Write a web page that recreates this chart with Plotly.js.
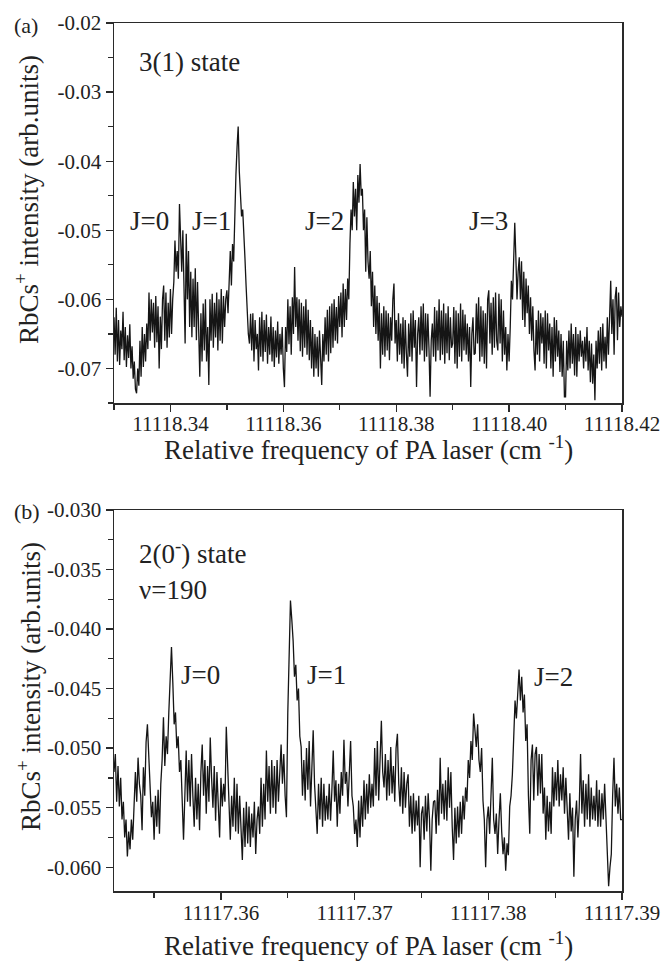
<!DOCTYPE html>
<html>
<head>
<meta charset="utf-8">
<script src="https://cdn.plot.ly/plotly-3.0.1.min.js"></script>
<style>html,body{margin:0;padding:0;background:#fff;}#chart{width:664px;height:963px;}</style>
</head>
<body>
<div id="chart"></div>
<script>
// ---------- Panel (a): 3(1) state ----------
const freqA = [
11118.3300,11118.3302,11118.3304,11118.3306,11118.3308,11118.3310,11118.3312,11118.3314,11118.3316,11118.3318,11118.3320,11118.3322,11118.3324,11118.3326,11118.3328,11118.3330,11118.3332,11118.3334,11118.3336,11118.3338,
11118.3340,11118.3342,11118.3344,11118.3346,11118.3348,11118.3350,11118.3352,11118.3354,11118.3356,11118.3358,11118.3360,11118.3362,11118.3364,11118.3366,11118.3368,11118.3370,11118.3372,11118.3374,11118.3376,11118.3378,
11118.3380,11118.3382,11118.3384,11118.3386,11118.3388,11118.3390,11118.3392,11118.3394,11118.3396,11118.3398,11118.3400,11118.3402,11118.3404,11118.3406,11118.3408,11118.3410,11118.3412,11118.3414,11118.3416,11118.3418,
11118.3420,11118.3422,11118.3424,11118.3426,11118.3428,11118.3430,11118.3432,11118.3434,11118.3436,11118.3438,11118.3440,11118.3442,11118.3444,11118.3446,11118.3448,11118.3450,11118.3452,11118.3454,11118.3456,11118.3458,
11118.3460,11118.3462,11118.3464,11118.3466,11118.3468,11118.3470,11118.3472,11118.3474,11118.3476,11118.3478,11118.3480,11118.3482,11118.3484,11118.3486,11118.3488,11118.3490,11118.3492,11118.3494,11118.3496,11118.3498,
11118.3500,11118.3502,11118.3504,11118.3506,11118.3508,11118.3510,11118.3512,11118.3514,11118.3516,11118.3518,11118.3520,11118.3522,11118.3524,11118.3526,11118.3528,11118.3530,11118.3532,11118.3534,11118.3536,11118.3538,
11118.3540,11118.3542,11118.3544,11118.3546,11118.3548,11118.3550,11118.3552,11118.3554,11118.3556,11118.3558,11118.3560,11118.3562,11118.3564,11118.3566,11118.3568,11118.3570,11118.3572,11118.3574,11118.3576,11118.3578,
11118.3580,11118.3582,11118.3584,11118.3586,11118.3588,11118.3590,11118.3592,11118.3594,11118.3596,11118.3598,11118.3600,11118.3602,11118.3604,11118.3606,11118.3608,11118.3610,11118.3612,11118.3614,11118.3616,11118.3618,
11118.3620,11118.3622,11118.3624,11118.3626,11118.3628,11118.3630,11118.3632,11118.3634,11118.3636,11118.3638,11118.3640,11118.3642,11118.3644,11118.3646,11118.3648,11118.3650,11118.3652,11118.3654,11118.3656,11118.3658,
11118.3660,11118.3662,11118.3664,11118.3666,11118.3668,11118.3670,11118.3672,11118.3674,11118.3676,11118.3678,11118.3680,11118.3682,11118.3684,11118.3686,11118.3688,11118.3690,11118.3692,11118.3694,11118.3696,11118.3698,
11118.3700,11118.3702,11118.3704,11118.3706,11118.3708,11118.3710,11118.3712,11118.3714,11118.3716,11118.3718,11118.3720,11118.3722,11118.3724,11118.3726,11118.3728,11118.3730,11118.3732,11118.3734,11118.3736,11118.3738,
11118.3740,11118.3742,11118.3744,11118.3746,11118.3748,11118.3750,11118.3752,11118.3754,11118.3756,11118.3758,11118.3760,11118.3762,11118.3764,11118.3766,11118.3768,11118.3770,11118.3772,11118.3774,11118.3776,11118.3778,
11118.3780,11118.3782,11118.3784,11118.3786,11118.3788,11118.3790,11118.3792,11118.3794,11118.3796,11118.3798,11118.3800,11118.3802,11118.3804,11118.3806,11118.3808,11118.3810,11118.3812,11118.3814,11118.3816,11118.3818,
11118.3820,11118.3822,11118.3824,11118.3826,11118.3828,11118.3830,11118.3832,11118.3834,11118.3836,11118.3838,11118.3840,11118.3842,11118.3844,11118.3846,11118.3848,11118.3850,11118.3852,11118.3854,11118.3856,11118.3858,
11118.3860,11118.3862,11118.3864,11118.3866,11118.3868,11118.3870,11118.3872,11118.3874,11118.3876,11118.3878,11118.3880,11118.3882,11118.3884,11118.3886,11118.3888,11118.3890,11118.3892,11118.3894,11118.3896,11118.3898,
11118.3900,11118.3902,11118.3904,11118.3906,11118.3908,11118.3910,11118.3912,11118.3914,11118.3916,11118.3918,11118.3920,11118.3922,11118.3924,11118.3926,11118.3928,11118.3930,11118.3932,11118.3934,11118.3936,11118.3938,
11118.3940,11118.3942,11118.3944,11118.3946,11118.3948,11118.3950,11118.3952,11118.3954,11118.3956,11118.3958,11118.3960,11118.3962,11118.3964,11118.3966,11118.3968,11118.3970,11118.3972,11118.3974,11118.3976,11118.3978,
11118.3980,11118.3982,11118.3984,11118.3986,11118.3988,11118.3990,11118.3992,11118.3994,11118.3996,11118.3998,11118.4000,11118.4002,11118.4004,11118.4006,11118.4008,11118.4010,11118.4012,11118.4014,11118.4016,11118.4018,
11118.4020,11118.4022,11118.4024,11118.4026,11118.4028,11118.4030,11118.4032,11118.4034,11118.4036,11118.4038,11118.4040,11118.4042,11118.4044,11118.4046,11118.4048,11118.4050,11118.4052,11118.4054,11118.4056,11118.4058,
11118.4060,11118.4062,11118.4064,11118.4066,11118.4068,11118.4070,11118.4072,11118.4074,11118.4076,11118.4078,11118.4080,11118.4082,11118.4084,11118.4086,11118.4088,11118.4090,11118.4092,11118.4094,11118.4096,11118.4098,
11118.4100,11118.4102,11118.4104,11118.4106,11118.4108,11118.4110,11118.4112,11118.4114,11118.4116,11118.4118,11118.4120,11118.4122,11118.4124,11118.4126,11118.4128,11118.4130,11118.4132,11118.4134,11118.4136,11118.4138,
11118.4140,11118.4142,11118.4144,11118.4146,11118.4148,11118.4150,11118.4152,11118.4154,11118.4156,11118.4158,11118.4160,11118.4162,11118.4164,11118.4166,11118.4168,11118.4170,11118.4172,11118.4174,11118.4176,11118.4178,
11118.4180,11118.4182,11118.4184,11118.4186,11118.4188,11118.4190,11118.4192,11118.4194,11118.4196,11118.4198,11118.4200
];
const signalA = [
-0.0626,-0.0680,-0.0612,-0.0690,-0.0630,-0.0695,-0.0645,-0.0672,-0.0618,-0.0688,-0.0640,-0.0698,-0.0652,-0.0685,-0.0636,-0.0700,-0.0668,-0.0715,-0.0690,-0.0730,
-0.0736,-0.0700,-0.0725,-0.0660,-0.0712,-0.0640,-0.0698,-0.0650,-0.0690,-0.0635,-0.0672,-0.0590,-0.0660,-0.0600,-0.0648,-0.0605,-0.0670,-0.0595,-0.0662,-0.0610,
-0.0700,-0.0625,-0.0672,-0.0600,-0.0580,-0.0660,-0.0590,-0.0670,-0.0605,-0.0655,-0.0585,-0.0650,-0.0600,-0.0575,-0.0515,-0.0560,-0.0530,-0.0570,-0.0462,-0.0520,
-0.0560,-0.0500,-0.0582,-0.0664,-0.0505,-0.0600,-0.0530,-0.0640,-0.0560,-0.0655,-0.0570,-0.0640,-0.0555,-0.0659,-0.0575,-0.0640,-0.0712,-0.0620,-0.0690,-0.0606,
-0.0674,-0.0600,-0.0690,-0.0640,-0.0724,-0.0600,-0.0660,-0.0592,-0.0670,-0.0605,-0.0655,-0.0590,-0.0674,-0.0600,-0.0660,-0.0585,-0.0664,-0.0595,-0.0640,-0.0600,
-0.0587,-0.0620,-0.0560,-0.0530,-0.0580,-0.0520,-0.0545,-0.0470,-0.0420,-0.0380,-0.0350,-0.0415,-0.0450,-0.0480,-0.0470,-0.0520,-0.0540,-0.0580,-0.0620,-0.0650,
-0.0664,-0.0621,-0.0674,-0.0620,-0.0690,-0.0630,-0.0672,-0.0650,-0.0703,-0.0626,-0.0683,-0.0618,-0.0690,-0.0630,-0.0676,-0.0622,-0.0693,-0.0640,-0.0680,-0.0625,
-0.0690,-0.0640,-0.0698,-0.0645,-0.0684,-0.0632,-0.0693,-0.0650,-0.0680,-0.0640,-0.0700,-0.0727,-0.0640,-0.0676,-0.0600,-0.0665,-0.0610,-0.0680,-0.0597,-0.0650,
-0.0553,-0.0640,-0.0597,-0.0660,-0.0600,-0.0675,-0.0605,-0.0683,-0.0610,-0.0670,-0.0600,-0.0680,-0.0615,-0.0688,-0.0630,-0.0700,-0.0640,-0.0712,-0.0650,-0.0700,
-0.0654,-0.0712,-0.0645,-0.0700,-0.0724,-0.0650,-0.0690,-0.0626,-0.0680,-0.0615,-0.0690,-0.0610,-0.0678,-0.0606,-0.0670,-0.0600,-0.0660,-0.0611,-0.0664,-0.0595,
-0.0640,-0.0590,-0.0655,-0.0577,-0.0640,-0.0585,-0.0630,-0.0570,-0.0600,-0.0520,-0.0470,-0.0500,-0.0430,-0.0480,-0.0440,-0.0500,-0.0420,-0.0460,-0.0404,-0.0450,
-0.0440,-0.0500,-0.0470,-0.0560,-0.0481,-0.0545,-0.0570,-0.0530,-0.0610,-0.0560,-0.0640,-0.0580,-0.0650,-0.0595,-0.0660,-0.0605,-0.0700,-0.0620,-0.0680,-0.0610,
-0.0683,-0.0616,-0.0674,-0.0620,-0.0688,-0.0626,-0.0660,-0.0600,-0.0577,-0.0664,-0.0630,-0.0690,-0.0620,-0.0680,-0.0635,-0.0693,-0.0626,-0.0700,-0.0630,-0.0678,
-0.0712,-0.0635,-0.0683,-0.0620,-0.0690,-0.0616,-0.0670,-0.0630,-0.0727,-0.0650,-0.0626,-0.0680,-0.0610,-0.0674,-0.0606,-0.0690,-0.0620,-0.0683,-0.0621,-0.0670,
-0.0741,-0.0660,-0.0635,-0.0683,-0.0611,-0.0690,-0.0616,-0.0674,-0.0600,-0.0688,-0.0616,-0.0680,-0.0606,-0.0693,-0.0620,-0.0678,-0.0610,-0.0688,-0.0626,-0.0670,
-0.0664,-0.0611,-0.0693,-0.0616,-0.0700,-0.0620,-0.0683,-0.0606,-0.0690,-0.0615,-0.0674,-0.0622,-0.0680,-0.0635,-0.0690,-0.0640,-0.0727,-0.0650,-0.0626,-0.0680,
-0.0678,-0.0606,-0.0664,-0.0597,-0.0690,-0.0610,-0.0683,-0.0616,-0.0693,-0.0620,-0.0700,-0.0600,-0.0587,-0.0664,-0.0605,-0.0680,-0.0597,-0.0670,-0.0590,-0.0660,
-0.0674,-0.0592,-0.0664,-0.0600,-0.0690,-0.0616,-0.0680,-0.0640,-0.0703,-0.0650,-0.0690,-0.0640,-0.0573,-0.0600,-0.0530,-0.0489,-0.0540,-0.0600,-0.0560,-0.0539,
-0.0600,-0.0545,-0.0630,-0.0560,-0.0640,-0.0570,-0.0620,-0.0580,-0.0650,-0.0597,-0.0660,-0.0610,-0.0674,-0.0703,-0.0630,-0.0680,-0.0616,-0.0690,-0.0620,-0.0664,
-0.0626,-0.0693,-0.0616,-0.0700,-0.0620,-0.0674,-0.0635,-0.0700,-0.0640,-0.0712,-0.0626,-0.0690,-0.0630,-0.0683,-0.0645,-0.0705,-0.0650,-0.0712,-0.0660,-0.0741,
-0.0741,-0.0660,-0.0703,-0.0645,-0.0700,-0.0635,-0.0693,-0.0650,-0.0710,-0.0640,-0.0712,-0.0650,-0.0690,-0.0645,-0.0683,-0.0660,-0.0700,-0.0654,-0.0690,-0.0640,
-0.0703,-0.0660,-0.0720,-0.0664,-0.0722,-0.0680,-0.0746,-0.0660,-0.0700,-0.0645,-0.0693,-0.0640,-0.0703,-0.0635,-0.0690,-0.0654,-0.0700,-0.0626,-0.0680,-0.0620,
-0.0573,-0.0650,-0.0600,-0.0680,-0.0597,-0.0582,-0.0659,-0.0590,-0.0640,-0.0610,-0.0625
];

// ---------- Panel (b): 2(0-) state, v=190 ----------
const freqB = [
11117.3520,11117.3521,11117.3522,11117.3523,11117.3524,11117.3525,11117.3526,11117.3527,11117.3528,11117.3529,11117.3530,11117.3531,11117.3532,11117.3533,11117.3534,11117.3535,11117.3536,11117.3537,11117.3538,11117.3539,
11117.3540,11117.3541,11117.3542,11117.3543,11117.3544,11117.3545,11117.3546,11117.3547,11117.3548,11117.3549,11117.3550,11117.3551,11117.3552,11117.3553,11117.3554,11117.3555,11117.3556,11117.3557,11117.3558,11117.3559,
11117.3560,11117.3561,11117.3562,11117.3563,11117.3564,11117.3565,11117.3566,11117.3567,11117.3568,11117.3569,11117.3570,11117.3571,11117.3572,11117.3573,11117.3574,11117.3575,11117.3576,11117.3577,11117.3578,11117.3579,
11117.3580,11117.3581,11117.3582,11117.3583,11117.3584,11117.3585,11117.3586,11117.3587,11117.3588,11117.3589,11117.3590,11117.3591,11117.3592,11117.3593,11117.3594,11117.3595,11117.3596,11117.3597,11117.3598,11117.3599,
11117.3600,11117.3601,11117.3602,11117.3603,11117.3604,11117.3605,11117.3606,11117.3607,11117.3608,11117.3609,11117.3610,11117.3611,11117.3612,11117.3613,11117.3614,11117.3615,11117.3616,11117.3617,11117.3618,11117.3619,
11117.3620,11117.3621,11117.3622,11117.3623,11117.3624,11117.3625,11117.3626,11117.3627,11117.3628,11117.3629,11117.3630,11117.3631,11117.3632,11117.3633,11117.3634,11117.3635,11117.3636,11117.3637,11117.3638,11117.3639,
11117.3640,11117.3641,11117.3642,11117.3643,11117.3644,11117.3645,11117.3646,11117.3647,11117.3648,11117.3649,11117.3650,11117.3651,11117.3652,11117.3653,11117.3654,11117.3655,11117.3656,11117.3657,11117.3658,11117.3659,
11117.3660,11117.3661,11117.3662,11117.3663,11117.3664,11117.3665,11117.3666,11117.3667,11117.3668,11117.3669,11117.3670,11117.3671,11117.3672,11117.3673,11117.3674,11117.3675,11117.3676,11117.3677,11117.3678,11117.3679,
11117.3680,11117.3681,11117.3682,11117.3683,11117.3684,11117.3685,11117.3686,11117.3687,11117.3688,11117.3689,11117.3690,11117.3691,11117.3692,11117.3693,11117.3694,11117.3695,11117.3696,11117.3697,11117.3698,11117.3699,
11117.3700,11117.3701,11117.3702,11117.3703,11117.3704,11117.3705,11117.3706,11117.3707,11117.3708,11117.3709,11117.3710,11117.3711,11117.3712,11117.3713,11117.3714,11117.3715,11117.3716,11117.3717,11117.3718,11117.3719,
11117.3720,11117.3721,11117.3722,11117.3723,11117.3724,11117.3725,11117.3726,11117.3727,11117.3728,11117.3729,11117.3730,11117.3731,11117.3732,11117.3733,11117.3734,11117.3735,11117.3736,11117.3737,11117.3738,11117.3739,
11117.3740,11117.3741,11117.3742,11117.3743,11117.3744,11117.3745,11117.3746,11117.3747,11117.3748,11117.3749,11117.3750,11117.3751,11117.3752,11117.3753,11117.3754,11117.3755,11117.3756,11117.3757,11117.3758,11117.3759,
11117.3760,11117.3761,11117.3762,11117.3763,11117.3764,11117.3765,11117.3766,11117.3767,11117.3768,11117.3769,11117.3770,11117.3771,11117.3772,11117.3773,11117.3774,11117.3775,11117.3776,11117.3777,11117.3778,11117.3779,
11117.3780,11117.3781,11117.3782,11117.3783,11117.3784,11117.3785,11117.3786,11117.3787,11117.3788,11117.3789,11117.3790,11117.3791,11117.3792,11117.3793,11117.3794,11117.3795,11117.3796,11117.3797,11117.3798,11117.3799,
11117.3800,11117.3801,11117.3802,11117.3803,11117.3804,11117.3805,11117.3806,11117.3807,11117.3808,11117.3809,11117.3810,11117.3811,11117.3812,11117.3813,11117.3814,11117.3815,11117.3816,11117.3817,11117.3818,11117.3819,
11117.3820,11117.3821,11117.3822,11117.3823,11117.3824,11117.3825,11117.3826,11117.3827,11117.3828,11117.3829,11117.3830,11117.3831,11117.3832,11117.3833,11117.3834,11117.3835,11117.3836,11117.3837,11117.3838,11117.3839,
11117.3840,11117.3841,11117.3842,11117.3843,11117.3844,11117.3845,11117.3846,11117.3847,11117.3848,11117.3849,11117.3850,11117.3851,11117.3852,11117.3853,11117.3854,11117.3855,11117.3856,11117.3857,11117.3858,11117.3859,
11117.3860,11117.3861,11117.3862,11117.3863,11117.3864,11117.3865,11117.3866,11117.3867,11117.3868,11117.3869,11117.3870,11117.3871,11117.3872,11117.3873,11117.3874,11117.3875,11117.3876,11117.3877,11117.3878,11117.3879,
11117.3880,11117.3881,11117.3882,11117.3883,11117.3884,11117.3885,11117.3886,11117.3887,11117.3888,11117.3889,11117.3890,11117.3891,11117.3892,11117.3893,11117.3894,11117.3895,11117.3896,11117.3897,11117.3898,11117.3899,
11117.3900
];
const signalB = [
-0.0520,-0.0505,-0.0545,-0.0515,-0.0549,-0.0525,-0.0560,-0.0545,-0.0575,-0.0560,-0.0591,-0.0570,-0.0585,-0.0560,-0.0577,-0.0540,-0.0520,-0.0545,-0.0508,-0.0530,
-0.0540,-0.0569,-0.0516,-0.0540,-0.0495,-0.0480,-0.0510,-0.0530,-0.0558,-0.0545,-0.0577,-0.0540,-0.0566,-0.0535,-0.0572,-0.0530,-0.0510,-0.0474,-0.0515,-0.0490,
-0.0505,-0.0470,-0.0440,-0.0415,-0.0445,-0.0480,-0.0470,-0.0500,-0.0490,-0.0520,-0.0510,-0.0545,-0.0577,-0.0540,-0.0502,-0.0545,-0.0510,-0.0549,-0.0505,-0.0540,
-0.0566,-0.0525,-0.0560,-0.0530,-0.0569,-0.0520,-0.0497,-0.0540,-0.0510,-0.0555,-0.0515,-0.0545,-0.0491,-0.0525,-0.0550,-0.0515,-0.0561,-0.0520,-0.0555,-0.0575,
-0.0525,-0.0549,-0.0530,-0.0545,-0.0482,-0.0520,-0.0560,-0.0577,-0.0540,-0.0566,-0.0525,-0.0570,-0.0530,-0.0572,-0.0540,-0.0575,-0.0594,-0.0550,-0.0583,-0.0545,
-0.0580,-0.0549,-0.0583,-0.0555,-0.0575,-0.0545,-0.0589,-0.0560,-0.0549,-0.0572,-0.0525,-0.0566,-0.0530,-0.0560,-0.0502,-0.0545,-0.0515,-0.0555,-0.0510,-0.0550,
-0.0515,-0.0555,-0.0510,-0.0545,-0.0520,-0.0497,-0.0530,-0.0505,-0.0540,-0.0558,-0.0470,-0.0420,-0.0376,-0.0392,-0.0410,-0.0440,-0.0430,-0.0460,-0.0450,-0.0490,
-0.0499,-0.0540,-0.0510,-0.0544,-0.0500,-0.0535,-0.0494,-0.0549,-0.0510,-0.0485,-0.0530,-0.0550,-0.0572,-0.0530,-0.0560,-0.0525,-0.0566,-0.0530,-0.0561,-0.0540,
-0.0560,-0.0530,-0.0561,-0.0535,-0.0502,-0.0545,-0.0527,-0.0566,-0.0530,-0.0555,-0.0520,-0.0540,-0.0493,-0.0530,-0.0520,-0.0549,-0.0525,-0.0494,-0.0540,-0.0549,
-0.0572,-0.0560,-0.0583,-0.0544,-0.0575,-0.0540,-0.0566,-0.0527,-0.0560,-0.0530,-0.0555,-0.0522,-0.0550,-0.0530,-0.0549,-0.0500,-0.0540,-0.0494,-0.0544,-0.0510,
-0.0477,-0.0520,-0.0533,-0.0505,-0.0544,-0.0510,-0.0540,-0.0499,-0.0538,-0.0515,-0.0545,-0.0500,-0.0488,-0.0530,-0.0549,-0.0516,-0.0555,-0.0520,-0.0550,-0.0530,
-0.0522,-0.0566,-0.0540,-0.0572,-0.0538,-0.0570,-0.0544,-0.0565,-0.0540,-0.0600,-0.0555,-0.0549,-0.0577,-0.0540,-0.0570,-0.0538,-0.0560,-0.0603,-0.0560,-0.0545,
-0.0544,-0.0572,-0.0535,-0.0565,-0.0508,-0.0555,-0.0530,-0.0560,-0.0527,-0.0561,-0.0516,-0.0550,-0.0520,-0.0566,-0.0594,-0.0550,-0.0580,-0.0549,-0.0575,-0.0545,
-0.0572,-0.0540,-0.0560,-0.0533,-0.0545,-0.0510,-0.0525,-0.0494,-0.0510,-0.0471,-0.0490,-0.0499,-0.0480,-0.0510,-0.0520,-0.0500,-0.0544,-0.0560,-0.0600,-0.0560,
-0.0549,-0.0572,-0.0540,-0.0508,-0.0560,-0.0572,-0.0555,-0.0589,-0.0560,-0.0538,-0.0570,-0.0589,-0.0575,-0.0603,-0.0580,-0.0590,-0.0549,-0.0540,-0.0522,-0.0490,
-0.0460,-0.0475,-0.0449,-0.0434,-0.0460,-0.0440,-0.0470,-0.0455,-0.0494,-0.0480,-0.0540,-0.0572,-0.0510,-0.0497,-0.0544,-0.0505,-0.0499,-0.0540,-0.0505,-0.0538,
-0.0505,-0.0555,-0.0533,-0.0577,-0.0540,-0.0570,-0.0545,-0.0572,-0.0516,-0.0549,-0.0520,-0.0544,-0.0510,-0.0549,-0.0522,-0.0544,-0.0516,-0.0555,-0.0525,-0.0560,
-0.0577,-0.0538,-0.0570,-0.0550,-0.0608,-0.0560,-0.0544,-0.0575,-0.0550,-0.0505,-0.0555,-0.0527,-0.0566,-0.0530,-0.0560,-0.0522,-0.0566,-0.0533,-0.0560,-0.0540,
-0.0561,-0.0527,-0.0566,-0.0535,-0.0566,-0.0538,-0.0560,-0.0530,-0.0555,-0.0580,-0.0616,-0.0600,-0.0589,-0.0540,-0.0508,-0.0549,-0.0530,-0.0555,-0.0533,-0.0560,
-0.0560
];

// ---------- Ticks ----------
const xTicksA = [11118.34, 11118.36, 11118.38, 11118.40, 11118.42];
const xTickTextA = ['11118.34', '11118.36', '11118.38', '11118.40', '11118.42'];
const xMinorA = [11118.33, 11118.35, 11118.37, 11118.39, 11118.41];
const yTicksA = [-0.07, -0.06, -0.05, -0.04, -0.03, -0.02];
const yTickTextA = ['-0.07', '-0.06', '-0.05', '-0.04', '-0.03', '-0.02'];
const yMinorA = [-0.075, -0.065, -0.055, -0.045, -0.035, -0.025];

const xTicksB = [11117.36, 11117.37, 11117.38, 11117.39];
const xTickTextB = ['11117.36', '11117.37', '11117.38', '11117.39'];
const xMinorB = [11117.355, 11117.365, 11117.375, 11117.385];
const yTicksB = [-0.060, -0.055, -0.050, -0.045, -0.040, -0.035, -0.030];
const yTickTextB = ['-0.060', '-0.055', '-0.050', '-0.045', '-0.040', '-0.035', '-0.030'];
const yMinorB = [-0.0575, -0.0525, -0.0475, -0.0425, -0.0375, -0.0325];

// ---------- Styling / layout ----------
const FONT = '"Liberation Serif", "Times New Roman", serif';
const AX = '#2a2a2a';
const L = 114, R = 622, T = 23, B = 891;
const PX = x => (x - L) / (R - L);
const PY = y => (B - y) / (B - T);

function mainAxis(range, tv, tt, minor, extra) {
  return Object.assign({
    range: range, tickmode: 'array', tickvals: tv, ticktext: tt,
    ticks: 'outside', ticklen: 7, tickwidth: 1.3, tickcolor: AX,
    minor: {tickmode: 'array', tickvals: minor, ticks: 'outside', ticklen: 5, tickwidth: 1.3, tickcolor: AX},
    showline: true, linecolor: AX, linewidth: 1.5, mirror: true,
    showgrid: false, zeroline: false,
    tickfont: {family: FONT, size: 21, color: '#222'}
  }, extra);
}
function mirrorAxis(range, tv, minor, extra) {
  return Object.assign({
    range: range, tickmode: 'array', tickvals: tv,
    ticks: 'inside', ticklen: 7, tickwidth: 1.3, tickcolor: AX,
    minor: {tickmode: 'array', tickvals: minor, ticks: 'inside', ticklen: 5, tickwidth: 1.3, tickcolor: AX},
    showticklabels: false, showline: false, showgrid: false, zeroline: false
  }, extra);
}

const rangeXA = [11118.33, 11118.42], rangeYA = [-0.075, -0.02];
const rangeXB = [11117.352, 11117.39], rangeYB = [-0.062, -0.030];
const domA = [PY(403), 1], domB = [0, PY(510)];

const traces = [
  {x: freqA, y: signalA, xaxis: 'x', yaxis: 'y', type: 'scatter', mode: 'lines',
   line: {color: '#151515', width: 1.3}, hoverinfo: 'skip'},
  {x: freqB, y: signalB, xaxis: 'x2', yaxis: 'y2', type: 'scatter', mode: 'lines',
   line: {color: '#151515', width: 1.3}, hoverinfo: 'skip'}
];

function ann(text, x, y, size, opts) {
  return Object.assign({text: text, xref: 'paper', yref: 'paper', x: PX(x), y: PY(y),
    showarrow: false, xanchor: 'center', yanchor: 'middle',
    font: {family: FONT, size: size, color: '#222'}}, opts || {});
}
const annotations = [
  ann('(a)', 25.5, 25, 22),
  ann('(b)', 26.5, 511.5, 22),
  ann('3(1) state', 137, 62, 27, {xanchor: 'left'}),
  ann('2(0<sup>-</sup>) state', 137, 552, 27, {xanchor: 'left'}),
  ann('ν=190', 137, 590, 27, {xanchor: 'left'}),
  ann('J=0', 149, 221, 27), ann('J=1', 211, 221, 27), ann('J=2', 324, 221, 27), ann('J=3', 488, 221, 27),
  ann('J=0', 200, 675, 27), ann('J=1', 326.5, 675, 27), ann('J=2', 553, 677, 27),
  ann('RbCs<sup>+</sup> intensity (arb.units)', 27, 200, 27, {textangle: -90}),
  ann('RbCs<sup>+</sup> intensity (arb.units)', 29, 687, 27, {textangle: -90}),
  ann('Relative frequency of PA laser (cm <sup>-1</sup>)', 368, 448, 27),
  ann('Relative frequency of PA laser (cm <sup>-1</sup>)', 368, 944, 27)
];

const layout = {
  width: 664, height: 963,
  margin: {l: L, r: 664 - R, t: T, b: 963 - B, pad: 0},
  paper_bgcolor: '#fff', plot_bgcolor: '#fff', showlegend: false,
  font: {family: FONT, color: '#222'},
  xaxis: mainAxis(rangeXA, xTicksA, xTickTextA, xMinorA, {anchor: 'y', domain: [0, 1], ticklabelstandoff: -6}),
  yaxis: mainAxis(rangeYA, yTicksA, yTickTextA, yMinorA, {anchor: 'x', domain: domA}),
  xaxis2: mainAxis(rangeXB, xTicksB, xTickTextB, xMinorB, {anchor: 'y2', domain: [0, 1], ticklabelstandoff: -5}),
  yaxis2: mainAxis(rangeYB, yTicksB, yTickTextB, yMinorB, {anchor: 'x2', domain: domB}),
  xaxis3: mirrorAxis(rangeXA, xTicksA, xMinorA, {overlaying: 'x', anchor: 'y', side: 'top'}),
  yaxis3: mirrorAxis(rangeYA, yTicksA, yMinorA, {overlaying: 'y', anchor: 'x', side: 'right'}),
  xaxis4: mirrorAxis(rangeXB, xTicksB, xMinorB, {overlaying: 'x2', anchor: 'y2', side: 'top'}),
  yaxis4: mirrorAxis(rangeYB, yTicksB, yMinorB, {overlaying: 'y2', anchor: 'x2', side: 'right'}),
  annotations: annotations
};

Plotly.newPlot('chart', traces, layout, {staticPlot: true, displayModeBar: false});
</script>
</body>
</html>
